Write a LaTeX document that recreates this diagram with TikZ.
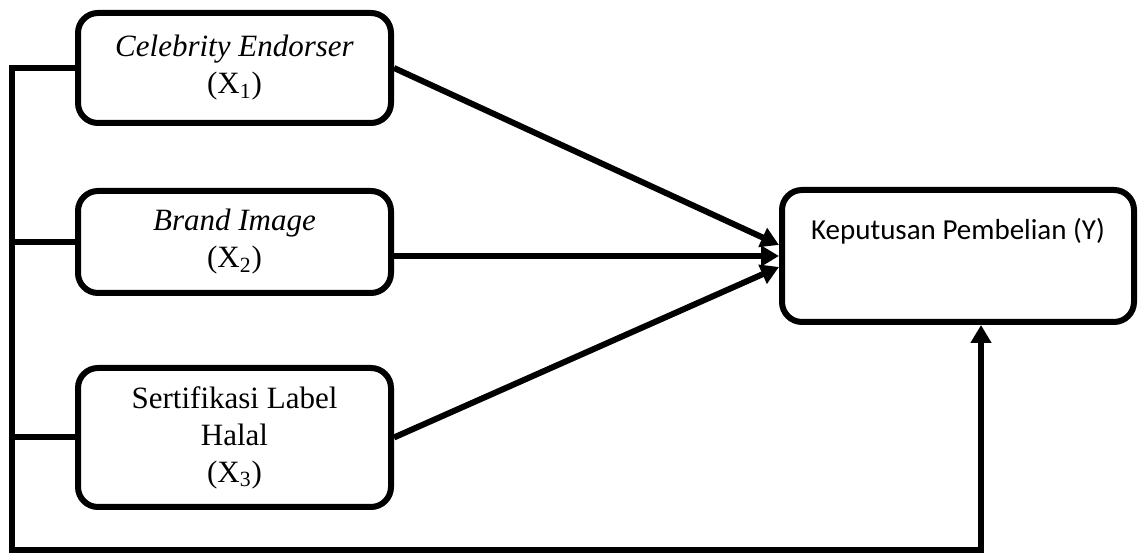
\documentclass[tikz,border=0pt]{standalone}
\usepackage{fontspec}
\setmainfont{Liberation Serif}
\newfontfamily\carlito{Carlito}
\usetikzlibrary{arrows.meta, positioning}

\begin{document}
\begin{tikzpicture}[x=0.5pt, y=0.5pt,
   varbox/.style={draw, line width=3pt, rounded corners=10pt, inner sep=0pt,
      align=center, minimum width=156.5pt, font=\fontsize{15.5}{18.5}\selectfont},
   link/.style={line width=3pt},
   arrow/.style={link, -{Triangle[length=9pt, width=10pt]}}]
   \useasboundingbox (0,0) rectangle (1141,555);
   \node[varbox, minimum height=55pt] (X1) at (234.5,487) {\textit{Celebrity Endorser}\\(X\textsubscript{1})};
   \node[varbox, minimum height=51pt] (X2) at (234.5,313) {\textit{Brand Image}\\(X\textsubscript{2})};
   \node[varbox, minimum height=69.5pt] (X3) at (234.5,117.5) {Sertifikasi Label\\Halal\\(X\textsubscript{3})};
   \node[varbox, minimum width=176pt, minimum height=66pt, text height=25pt, text depth=41pt,
      font=\carlito\fontsize{14.5}{17}\selectfont] (Y) at (958,299) {Keputusan Pembelian (Y)};
   \coordinate (bl) at (12,5);
   \coordinate (br) at (981,5);
   % arrows into Y
   \draw[arrow] (X1.east) -- ([yshift=5.5pt]Y.west);
   \draw[arrow] (X2.east |- Y.west) -- (Y.west);
   \draw[arrow] (X3.east) -- ([yshift=-5.5pt]Y.west);
   % left bus
   \draw[arrow] (X1.west) -| (bl) -- (br) -- (br |- Y.south);
   \draw[link] (X2.west) -- (X2.west -| bl);
   \draw[link] (X3.west) -- (X3.west -| bl);
\end{tikzpicture}
\end{document}
